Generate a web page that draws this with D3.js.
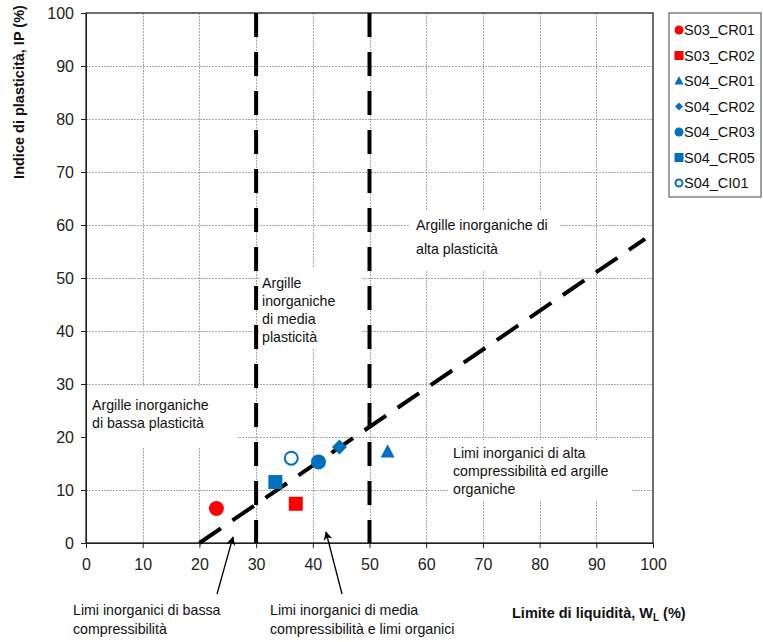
<!DOCTYPE html>
<html><head><meta charset="utf-8">
<script src="https://cdn.jsdelivr.net/npm/d3@7"></script>
<style>body{margin:0;background:#fff;font-family:Arial,"Liberation Sans",sans-serif;}</style>
</head><body><svg id="c" width="763" height="642"></svg>
<script>
const seriesNames = ["S03_CR01","S03_CR02","S04_CR01","S04_CR02","S04_CR03","S04_CR05","S04_CI01"];
const seriesColors = ["#FF0000","#FF0000","#0070C0","#0070C0","#0070C0","#0070C0","#0070C0"];
const seriesShapes = ["circle","square","triangle","diamond","circle","square","open"];
const wlValues = [23.0, 37.0, 53.2, 44.7, 41.0, 33.4, 36.2];
const ipValues = [6.5, 7.4, 17.2, 18.1, 15.3, 11.5, 16.0];
const xTicks = [0,10,20,30,40,50,60,70,80,90,100];
const yTicks = [0,10,20,30,40,50,60,70,80,90,100];
const aLineWL = [20, 98.6];
const vLinesWL = [30, 50];

const svg = d3.select("#c");
const x = d3.scaleLinear().domain([0,100]).range([86,653]);
const y = d3.scaleLinear().domain([0,100]).range([543,13]);
const font = "Arial, 'Liberation Sans', sans-serif";

// grid
const grid = svg.append("g").attr("shape-rendering","crispEdges");
xTicks.slice(1,-1).forEach(t=>grid.append("line").attr("x1",Math.round(x(t))+0.5).attr("x2",Math.round(x(t))+0.5).attr("y1",y(0)).attr("y2",y(100))
  .attr("stroke","#aaa").attr("stroke-width",1).attr("stroke-dasharray","2,1"));
yTicks.slice(1,-1).forEach(t=>grid.append("line").attr("x1",x(0)).attr("x2",x(100)).attr("y1",Math.round(y(t))+0.5).attr("y2",Math.round(y(t))+0.5)
  .attr("stroke","#aaa").attr("stroke-width",1).attr("stroke-dasharray","2,1"));

// text boxes (white background hides grid)
const boxes = [
  {x0:87,x1:237,y0:386,y1:447},
  {x0:259,x1:362,y0:268,y1:348},
  {x0:410,x1:560,y0:210,y1:271},
  {x0:449,x1:632,y0:440,y1:500}
];
boxes.forEach(b=>svg.append("rect").attr("x",b.x0).attr("y",b.y0).attr("width",b.x1-b.x0).attr("height",b.y1-b.y0).attr("fill","#fff"));

// axes
const xAxis = svg.append("g").attr("transform",`translate(0,${y(0)})`)
  .call(d3.axisBottom(x).tickValues(xTicks).tickSize(5).tickSizeOuter(0));
const yAxis = svg.append("g").attr("transform",`translate(${x(0)},0)`)
  .call(d3.axisLeft(y).tickValues(yTicks).tickSize(5).tickSizeOuter(0));
[xAxis,yAxis].forEach(a=>{
  a.selectAll("text").attr("font-family",font).attr("font-size",16).attr("fill","#222");
  a.selectAll("line,path").attr("stroke","#222");
});
xAxis.selectAll("text").attr("dy","1.2em");
yAxis.selectAll("text").attr("dx","-0.25em");
// frame
svg.append("rect").attr("x",x(0)).attr("y",y(100)).attr("width",x(100)-x(0)).attr("height",y(0)-y(100))
  .attr("fill","none").attr("stroke","#222").attr("stroke-width",1.3);

// dashed lines
vLinesWL.forEach(v=>svg.append("line").attr("x1",x(v)).attr("x2",x(v)).attr("y1",y(100)).attr("y2",y(0))
  .attr("stroke","#000").attr("stroke-width",4).attr("stroke-dasharray","24,15"));
svg.append("line").attr("x1",x(aLineWL[0])).attr("y1",y(0.73*(aLineWL[0]-20)))
  .attr("x2",x(aLineWL[1])).attr("y2",y(0.73*(aLineWL[1]-20)))
  .attr("stroke","#000").attr("stroke-width",4).attr("stroke-dasharray","26,14");

// markers
function drawMarker(g, shape, color, cx, cy, s){
  if(shape==="circle") g.append("circle").attr("cx",cx).attr("cy",cy).attr("r",s/2).attr("fill",color);
  else if(shape==="open") g.append("circle").attr("cx",cx).attr("cy",cy).attr("r",s/2-1).attr("fill","#fff").attr("stroke",color).attr("stroke-width",2);
  else if(shape==="square") g.append("rect").attr("x",cx-s/2).attr("y",cy-s/2).attr("width",s).attr("height",s).attr("fill",color);
  else if(shape==="triangle") g.append("path").attr("d",`M0,${-s*0.55}L${s/2},${s*0.4}L${-s/2},${s*0.4}Z`).attr("transform",`translate(${cx},${cy})`).attr("fill",color);
  else if(shape==="diamond") g.append("path").attr("d",`M0,${-s/2}L${s/2},0L0,${s/2}L${-s/2},0Z`).attr("transform",`translate(${cx},${cy})`).attr("fill",color);
}
const pts = svg.append("g");
seriesNames.forEach((n,i)=>{
  const sz = {circle:15,square:14,triangle:14,diamond:15,open:15}[seriesShapes[i]];
  drawMarker(pts, seriesShapes[i], seriesColors[i], x(wlValues[i]), y(ipValues[i]), sz);
});

// annotations
function multi(lines, tx, ty, lh){
  const t = svg.append("text").attr("font-family",font).attr("font-size",14.2).attr("fill","#111");
  lines.forEach((l,i)=>t.append("tspan").attr("x",tx).attr("y",ty+i*lh).text(l));
}
multi(["Argille inorganiche di","alta plasticità"], 416, 230, 24);
multi(["Argille","inorganiche","di media","plasticità"], 262, 288, 18);
multi(["Argille inorganiche","di bassa plasticità"], 92, 410, 18);
multi(["Limi inorganici di alta","compressibilità ed argille","organiche"], 453, 458, 18);
multi(["Limi inorganici di bassa","compressibilità"], 73, 615, 19);
multi(["Limi inorganici di media","compressibilità e limi organici"], 270, 615, 19);

// arrows
const defs = svg.append("defs");
defs.append("marker").attr("id","ah").attr("viewBox","0 0 10 10").attr("refX",9).attr("refY",5)
  .attr("markerWidth",10).attr("markerHeight",9).attr("orient","auto").attr("markerUnits","userSpaceOnUse")
  .append("path").attr("d","M0,0L10,5L0,10L3,5Z").attr("fill","#000");
svg.append("line").attr("x1",217).attr("y1",594).attr("x2",233).attr("y2",537).attr("stroke","#000").attr("stroke-width",1.3).attr("marker-end","url(#ah)");
svg.append("line").attr("x1",342).attr("y1",594).attr("x2",326).attr("y2",532).attr("stroke","#000").attr("stroke-width",1.3).attr("marker-end","url(#ah)");

// axis titles
const xt = svg.append("text").attr("x",512).attr("y",618).attr("font-family",font).attr("font-size",14.5).attr("font-weight","bold").attr("fill","#111");
xt.append("tspan").text("Limite di liquidità, W");
xt.append("tspan").attr("font-size",10).attr("dy",3).text("L");
xt.append("tspan").attr("dy",-3).text(" (%)");
svg.append("text").attr("transform","translate(24,92) rotate(-90)").attr("text-anchor","middle")
  .attr("font-family",font).attr("font-size",14.5).attr("font-weight","bold").attr("fill","#111").text("Indice di plasticità, IP (%)");

// legend
const lg = svg.append("g");
lg.append("rect").attr("x",669).attr("y",13).attr("width",92).attr("height",184).attr("fill","#fff").attr("stroke","#444").attr("stroke-width",1);
seriesNames.forEach((n,i)=>{
  const cy = 30 + i*25.5;
  const sz = {circle:9,square:9,triangle:9,diamond:8,open:9}[seriesShapes[i]];
  drawMarker(lg, seriesShapes[i], seriesColors[i], 679, cy, sz);
  lg.append("text").attr("x",684).attr("y",cy+5).attr("font-family",font).attr("font-size",14.5).attr("fill","#111").text(n);
});
</script></body></html>
